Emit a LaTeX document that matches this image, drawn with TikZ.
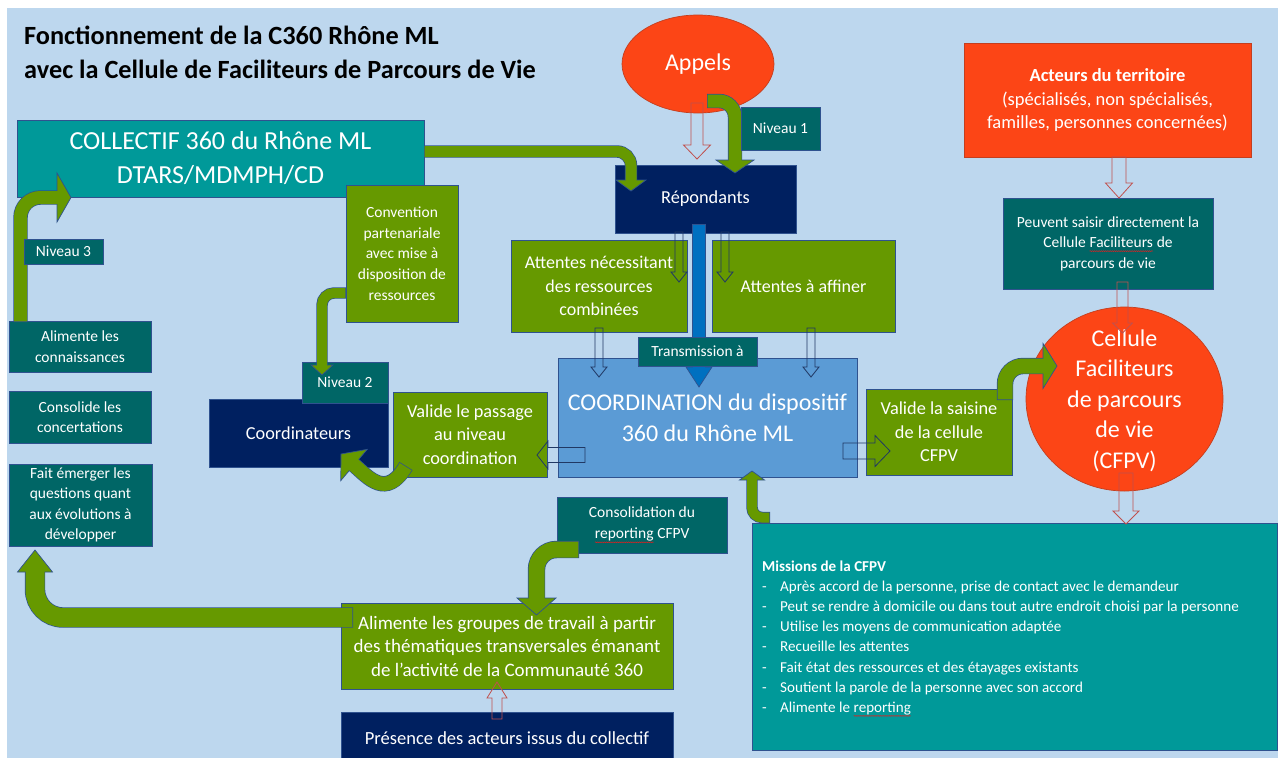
\documentclass[tikz,border=0pt]{standalone}
\usepackage{fontspec}
\setmainfont{Carlito}
\usetikzlibrary{calc,shapes.geometric,decorations.pathmorphing}
\definecolor{cBg}{HTML}{BDD7EE}
\definecolor{cNavy}{HTML}{002060}
\definecolor{cDTeal}{HTML}{006666}
\definecolor{cTeal}{HTML}{009999}
\definecolor{cGreen}{HTML}{669900}
\definecolor{cOrange}{RGB}{252,69,22}
\definecolor{cOrDraw}{RGB}{196,62,30}
\definecolor{cCoord}{HTML}{5B9BD5}
\definecolor{cBar}{HTML}{0070C0}
\definecolor{cLine}{HTML}{2F528F}
\definecolor{cRedLine}{RGB}{192,80,77}
\definecolor{cBlueLine}{HTML}{203864}
\definecolor{cSquig}{RGB}{225,30,30}
\newcommand{\fs}[2]{\fontsize{#1}{#2}\selectfont}
\newcommand{\squig}[1]{\tikz[baseline=(sq.base)]{\node[shape=rectangle,inner sep=0pt,outer sep=0pt,minimum width=0pt,minimum height=0pt,draw=none,fill=none] (sq) {#1};\draw[cSquig,line width=0.5pt,decorate,decoration={snake,amplitude=0.45pt,segment length=2.2pt}] ([yshift=-3.5pt]sq.base west) -- ([yshift=-3.5pt]sq.base east);}}
% #1 fill, #2 shaft width, #3 outline width, #4 radius, #5 shaft path, #6 head base, #7 head tip, #8 head half width
\newcommand{\blockarrow}[8]{%
  \filldraw[fill=#1, draw=cLine, line width=0.7pt, line join=miter]
    (#7) -- ($(#6)!#8!90:(#7)$) -- ($(#6)!#8!-90:(#7)$) -- cycle;
  \draw[cLine, line width=#3, rounded corners=#4] #5;
  \draw[#1, line width=#2, rounded corners=#4, shorten >=-1.5pt, shorten <=0.7pt] #5;
}
% #1 colour, #2 start, #3 tip, #4 shaft half width, #5 head half width, #6 head length
\newcommand{\hollowarrow}[6]{%
  \coordinate (hb) at ($(#3)!#6!(#2)$);
  \draw[#1, line width=0.8pt, line join=miter]
    ($(#2)!#4!90:(#3)$) -- ($(hb)!#4!90:(#3)$) -- ($(hb)!#5!90:(#3)$) -- (#3) --
    ($(hb)!#5!-90:(#3)$) -- ($(hb)!#4!-90:(#3)$) -- ($(#2)!#4!-90:(#3)$) -- cycle;
}
\tikzset{
  bx/.style={rectangle, draw=cLine, line width=0.7pt, inner sep=0pt, outer sep=0pt, text=white, align=center},
  sz/.style 2 args={minimum width=#1pt, minimum height=#2pt},
  navyb/.style={bx, fill=cNavy},
  dtealb/.style={bx, fill=cDTeal},
  tealb/.style={bx, fill=cTeal},
  greenb/.style={bx, fill=cGreen},
  orangeb/.style={bx, fill=cOrange, draw=cOrDraw},
  orangeell/.style={ellipse, fill=cOrange, draw=cOrDraw, line width=0.7pt, inner sep=0pt, outer sep=0pt, text=white, align=center},
  titletext/.style={inner sep=0pt, anchor=base west, text=black, font=\bfseries\fs{26.3}{30}},
  mtext/.style={inner sep=0pt, anchor=base west, text=white, font=\fs{15.1}{20}},
  redhollow/.style={cRedLine},
  bluehollow/.style={cBlueLine}
}
\begin{document}
\begin{tikzpicture}[x=1pt,y=-1pt]
\useasboundingbox (0,0) rectangle (1278,758);
\clip (0,0) rectangle (1278,758);
\fill[cBg] (7,8) rectangle (1278,758);

% title
\node[titletext] (title1) at (24,44) {Fonctionnement de la C360 Rhône ML};
\node[titletext] (title2) at (24,78) {avec la Cellule de Faciliteurs de Parcours de Vie};

% boxes
\node[tealb, sz={407}{77}, font=\fs{26}{34}] (coll) at (220.5,158.5) {COLLECTIF 360 du Rhône ML\\DTARS/MDMPH/CD};
\node[greenb, sz={112}{137}, font=\fs{15.5}{20.7}] (conv) at (402,253.5) {Convention\\partenariale\\avec mise à\\disposition de\\ressources};
\node[dtealb, sz={142}{51}, font=\fs{15.5}{20.5}] (alim) at (80,346.5) {Alimente les\\connaissances};
\node[dtealb, sz={142}{52}, font=\fs{15.5}{20.5}] (conso) at (80,417) {Consolide les\\concertations};
\node[dtealb, sz={143}{82}, font=\fs{15.5}{20.5}] (fait) at (80.5,505) {Fait émerger les\\questions quant\\aux évolutions à\\développer};
\node[navyb, sz={179}{68}, font=\fs{18.3}{22}] (coordr) at (298.5,433) {Coordinateurs};
\node[dtealb, sz={86}{41}, font=\fs{15.5}{20}] (niv2) at (345,382.5) {Niveau 2};
\node[greenb, sz={154}{85}, font=\fs{18.3}{23.3}] (valpass) at (470,434.5) {Valide le passage\\au niveau\\coordination};
\node[orangeell, minimum width=152pt, minimum height=98pt, font=\fs{24}{28}] (appels) at (698,64) {\raisebox{-3pt}{Appels}};
\node[navyb, sz={181}{68}, font=\fs{18.3}{22}] (rep) at (705.5,199) {\raisebox{-1.5pt}{Répondants}};
\node[greenb, sz={176}{92}, font=\fs{18}{23.5}] (attn) at (599,286) {Attentes nécessitant\\des ressources\\combinées};
\node[greenb, sz={183}{92}, font=\fs{18}{23.5}] (atta) at (803.5,286) {Attentes à affiner};
\node[bx, fill=cCoord, sz={299}{119}, font=\fs{24}{31}] (coord) at (707.5,417.5) {COORDINATION du dispositif\\360 du Rhône ML};
\node[greenb, sz={146}{86}, font=\fs{18.3}{23.3}] (valsais) at (939,432) {Valide la saisine\\de la cellule\\CFPV};
\node[orangeell, minimum width=197pt, minimum height=184pt] (cell) at (1124.5,399) {};
\node[inner sep=0pt, text=white, align=center, font=\fs{24}{30.5}] (celltext) at ($(cell.center)+(0,1.5)$) {Cellule\\Faciliteurs\\de parcours\\de vie\\(CFPV)};
\node[orangeb, sz={287}{114}, font=\fs{18.5}{23.5}] (act) at (1107.5,100) {\textbf{Acteurs du territoire}\\(spécialisés, non spécialisés,\\familles, personnes concernées)};
\node[dtealb, sz={210}{91}, font=\fs{15.5}{20.5}] (peu) at (1108,243.5) {Peuvent saisir directement la\\Cellule \squig{Faciliteurs} de\\parcours de vie};
\node[tealb, sz={525}{227}] (miss) at (1014.5,636.5) {};
\node[dtealb, sz={170}{56}, font=\fs{15.5}{21}] (consrep) at (642,525) {Consolidation du\\\squig{reporting} CFPV};
\node[greenb, sz={332}{86}, font=\fs{19}{23.5}] (algr) at (507,646) {Alimente les groupes de travail à partir\\des thématiques transversales émanant\\de l’activité de la Communauté 360};
\node[navyb, sz={332}{52}, font=\fs{18.5}{22}] (pres) at (507,738) {Présence des acteurs issus du collectif};

% missions text
\node[mtext, font=\bfseries\fs{15.1}{20}] (mhead) at (762,571) {Missions de la CFPV};
\foreach \t [count=\i] in {{Après accord de la personne, prise de contact avec le demandeur},{Peut se rendre à domicile ou dans tout autre endroit choisi par la personne},{Utilise les moyens de communication adaptée},{Recueille les attentes},{Fait état des ressources et des étayages existants},{Soutient la parole de la personne avec son accord},{Alimente le \squig{reporting}}}
  \node[mtext] (m\i) at (762,{571+\i*20.2}) {\makebox[18pt][l]{-}\t};

% green block arrows
\coordinate (g1s) at ($(appels.south)+(9,-12)$);
\coordinate (g1b) at ($(rep.north)+(29.5,-5)$);
\coordinate (g1t) at ($(rep.north)+(29.5,8)$);
\blockarrow{cGreen}{13pt}{14.4pt}{16pt}{(g1s) -| (g1b)}{g1b}{g1t}{19pt}

\coordinate (g2s) at ($(coll.east)+(0,-7)$);
\coordinate (g2b) at ($(rep.north west)+(16,15)$);
\coordinate (g2t) at ($(rep.north west)+(16,26)$);
\blockarrow{cGreen}{11pt}{12.4pt}{14pt}{(g2s) -| (g2b)}{g2b}{g2t}{15pt}

\coordinate (g3s) at ($(conv.west)+(0,39.5)$);
\coordinate (g3b) at ($(niv2.north west)+(20,3)$);
\coordinate (g3t) at ($(niv2.north west)+(20,13)$);
\blockarrow{cGreen}{10pt}{11.4pt}{12pt}{(g3s) -| (g3b)}{g3b}{g3t}{11pt}

\coordinate (g4s) at ($(alim.north west)+(11.5,1)$);
\coordinate (g4b) at ($(coll.south west)+(40,0.5)$);
\coordinate (g4t) at ($(coll.south west)+(54,0.5)$);
\blockarrow{cGreen}{13pt}{14.4pt}{20pt}{(g4s) |- (g4b)}{g4b}{g4t}{24.5pt}

\coordinate (g5s) at ($(algr.west)+(12,-28.5)$);
\coordinate (g5b) at ($(fait.south)+(-45.5,26)$);
\coordinate (g5t) at ($(fait.south)+(-45.5,4)$);
\blockarrow{cGreen}{19pt}{20.4pt}{28pt}{(g5s) -| (g5b)}{g5b}{g5t}{17.5pt}

\coordinate (g6s) at ($(consrep.south west)+(22,-3.5)$);
\coordinate (g6b) at ($(algr.north)+(29.5,-5)$);
\coordinate (g6t) at ($(algr.north)+(29.5,12)$);
\blockarrow{cGreen}{16pt}{17.4pt}{20pt}{(g6s) -| (g6b)}{g6b}{g6t}{19.5pt}

\coordinate (g7s) at ($(miss.north west)+(18,-5.5)$);
\coordinate (g7b) at ($(coord.south)+(44.5,3)$);
\coordinate (g7t) at ($(coord.south)+(44.5,-6)$);
\blockarrow{cGreen}{10pt}{11.4pt}{10pt}{(g7s) -| (g7b)}{g7b}{g7t}{12.5pt}

\coordinate (g8s) at ($(valsais.north east)+(-7,11)$);
\coordinate (g8b) at ($(cell.west)+(17,-33)$);
\coordinate (g8t) at ($(cell.west)+(31,-33)$);
\blockarrow{cGreen}{15pt}{16.4pt}{18pt}{(g8s) |- (g8b)}{g8b}{g8t}{22.5pt}

\coordinate (g9s) at ($(valpass.south west)+(13,-11)$);
\coordinate (g9b) at ($(coordr.south east)+(-34,-2)$);
\coordinate (g9t) at ($(coordr.south east)+(-47,-13)$);
\blockarrow{cGreen}{14pt}{15.4pt}{0pt}{(g9s) .. controls ($(g9s)+(-20,34)$) and ($(g9b)+(14,12)$) .. (g9b)}{g9b}{g9t}{20.5pt}

% blue transmission bar
\coordinate (bs) at ($(rep.south)+(-6.5,-9)$);
\coordinate (bb) at ($(coord.north)+(-8.5,9)$);
\coordinate (bt) at ($(coord.north)+(-8.5,29)$);
\blockarrow{cBar}{12pt}{13.4pt}{0pt}{(bs) -- (bb)}{bb}{bt}{13pt}

% boxes drawn on top
\node[dtealb, sz={119}{29}, font=\fs{15.5}{20}] (trans) at (697.5,351.5) {Transmission à};
\node[dtealb, sz={79}{25}, font=\fs{15.5}{20}] (niv3) at (63.5,251.5) {Niveau 3};
\node[dtealb, sz={79}{43}, font=\fs{15.5}{20}] (niv1) at (780.5,128.5) {Niveau 1};

% hollow arrows
\coordinate (h1s) at ($(appels.south)+(-1,-10)$);
\coordinate (h1t) at ($(rep.north)+(-8.5,-6)$);
\hollowarrow{redhollow}{h1s}{h1t}{6pt}{13.5pt}{14pt}
\coordinate (h2s) at ($(act.south)+(11.5,0)$);
\coordinate (h2t) at ($(peu.north)+(11,0)$);
\hollowarrow{redhollow}{h2s}{h2t}{7pt}{13.5pt}{15pt}
\coordinate (h3s) at ($(peu.south)+(14.5,-7)$);
\coordinate (h3t) at ($(cell.north)+(-2,26)$);
\hollowarrow{redhollow}{h3s}{h3t}{5.5pt}{10pt}{10pt}
\coordinate (h4s) at ($(cell.south)+(1.5,-18)$);
\coordinate (h4t) at ($(miss.north west)+(374,1)$);
\hollowarrow{redhollow}{h4s}{h4t}{7pt}{13pt}{13pt}
\coordinate (h5s) at ($(pres.north)+(-10,7)$);
\coordinate (h5t) at ($(algr.south)+(-10,-7)$);
\hollowarrow{redhollow}{h5s}{h5t}{5pt}{10pt}{16pt}

\coordinate (b1s) at ($(rep.south)+(-26.5,-1)$);
\coordinate (b1t) at ($(attn.north east)+(-8,42)$);
\hollowarrow{bluehollow}{b1s}{b1t}{4pt}{8pt}{10pt}
\coordinate (b2s) at ($(rep.south)+(19.5,-1)$);
\coordinate (b2t) at ($(atta.north west)+(13,42)$);
\hollowarrow{bluehollow}{b2s}{b2t}{4pt}{8pt}{10pt}
\coordinate (b3s) at ($(attn.south)+(0,-4)$);
\coordinate (b3t) at ($(coord.north west)+(41,19)$);
\hollowarrow{bluehollow}{b3s}{b3t}{4pt}{8pt}{10pt}
\coordinate (b4s) at ($(atta.south)+(7.5,-4)$);
\coordinate (b4t) at ($(coord.north east)+(-46,19)$);
\hollowarrow{bluehollow}{b4s}{b4t}{4pt}{8pt}{10pt}
\coordinate (b5s) at ($(coord.west)+(27,37.5)$);
\coordinate (b5t) at ($(valpass.east)+(-10,20.5)$);
\hollowarrow{bluehollow}{b5s}{b5t}{7.5pt}{14pt}{11pt}
\coordinate (b6s) at ($(coord.east)+(-14,33.5)$);
\coordinate (b6t) at ($(valsais.west)+(24,19)$);
\hollowarrow{bluehollow}{b6s}{b6t}{8pt}{15.5pt}{15pt}
\end{tikzpicture}
\end{document}
